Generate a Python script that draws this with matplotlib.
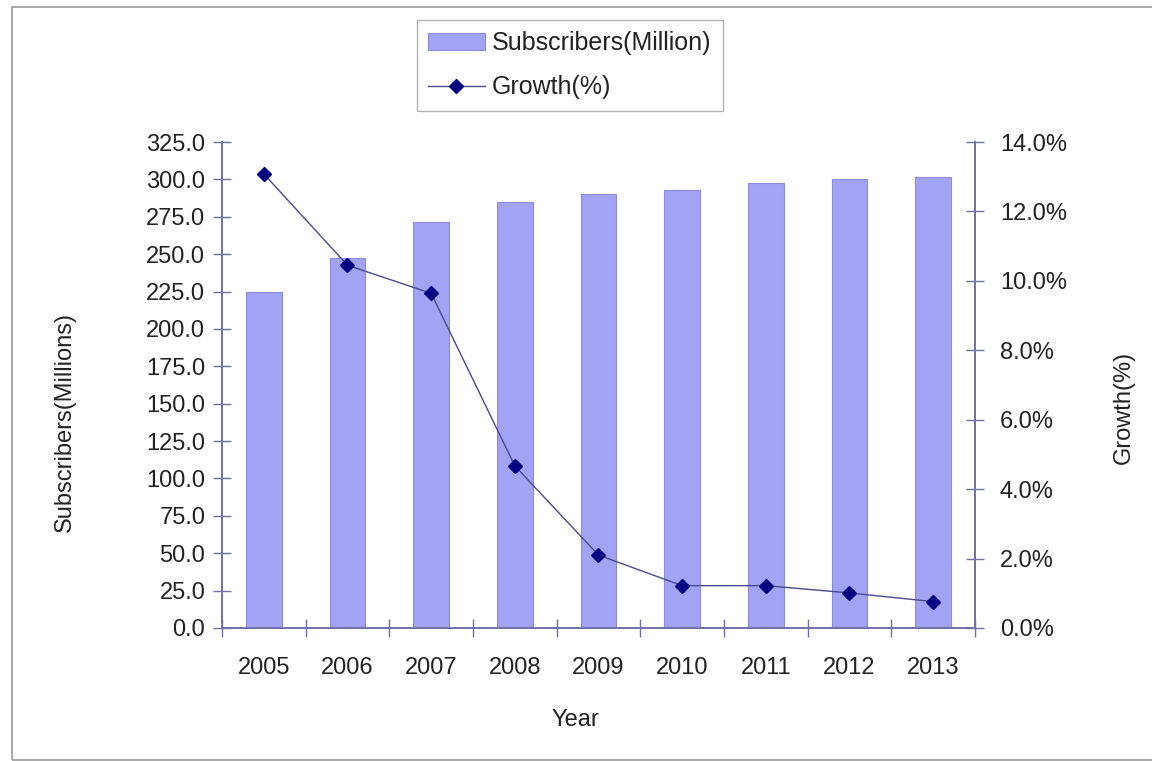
import numpy as np
import matplotlib
matplotlib.use("Agg")
import matplotlib.pyplot as plt
from matplotlib.patches import Rectangle
from matplotlib.ticker import FuncFormatter, FixedLocator

plt.rcParams["font.family"] = ["Liberation Sans", "DejaVu Sans"]
plt.rcParams["font.size"] = 17

# Data
years = ["2005", "2006", "2007", "2008", "2009", "2010", "2011", "2012", "2013"]
subscribers = [224.7, 247.6, 271.3, 284.7, 290.4, 293.1, 297.4, 300.3, 301.8]
growth = [13.08, 10.45, 9.64, 4.67, 2.10, 1.22, 1.22, 1.01, 0.76]

axis_col = "#7070a8"
bar_col = "#a3a3f5"
text_col = "#222222"

fig = plt.figure(figsize=(11.52, 7.61), dpi=100)
ax = fig.add_axes([222 / 1152, 1 - 628 / 761, 753 / 1152, 486 / 761])
ax2 = ax.twinx()

x = np.arange(len(years))
bars = ax.bar(x, subscribers, width=0.43, color=bar_col, edgecolor="#8c8cd8",
              linewidth=0.8, label="Subscribers(Million)", zorder=2)
line, = ax2.plot(x, growth, color="#4a4a90", linewidth=1.0, marker="D",
                 markersize=7, markerfacecolor="#000080", markeredgecolor="#000080",
                 label="Growth(%)")

ax.set_xlim(-0.5, len(years) - 0.5)
ax.set_ylim(0, 325)
ax.set_yticks(np.arange(0, 326, 25))
ax.yaxis.set_major_formatter(FuncFormatter(lambda v, p: f"{v:.1f}"))
ax2.set_ylim(0, 14)
ax2.set_yticks(np.arange(0, 15, 2))
ax2.yaxis.set_major_formatter(FuncFormatter(lambda v, p: f"{v:.1f}%"))

# category labels centred, tick marks between categories
ax.xaxis.set_major_locator(FixedLocator(np.arange(-0.5, len(years), 1.0)))
ax.xaxis.set_major_formatter(FuncFormatter(lambda v, p: ""))
ax.xaxis.set_minor_locator(FixedLocator(x))
ax.set_xticks(x, years, minor=True)
ax.tick_params(axis="x", which="minor", length=0, pad=21, labelcolor=text_col)
ax.tick_params(axis="x", which="major", direction="inout", length=13,
               color=axis_col, width=1)
ax.tick_params(axis="y", direction="inout", length=13, color=axis_col, width=1,
               pad=5.5, labelcolor=text_col)
ax2.tick_params(axis="y", direction="inout", length=13, color=axis_col, width=1,
                pad=11.5, labelcolor=text_col)

for a in (ax, ax2):
    a.spines["top"].set_visible(False)
    for s in ("left", "right", "bottom"):
        a.spines[s].set_color(axis_col)
        a.spines[s].set_linewidth(1.2)

ax.set_xlabel("Year", color=text_col)
ax.xaxis.set_label_coords((575 - 222) / 753, -0.167)
ax.set_ylabel("Subscribers(Millions)", color=text_col)
ax.yaxis.set_label_coords(-0.194, 0.424)
ax2.set_ylabel("Growth(%)", color=text_col)
ax2.yaxis.set_label_coords(1.183, 0.453)

leg = fig.legend([bars, line], ["Subscribers(Million)", "Growth(%)"],
                 loc="upper left", bbox_to_anchor=(417 / 1152, 1 - 20 / 761),
                 borderaxespad=0, fancybox=False, handlelength=2.25,
                 labelspacing=0.8, borderpad=0.45, handletextpad=0.3,
                 fontsize=18)
for t in leg.get_texts():
    t.set_color(text_col)
leg.get_frame().set_edgecolor("#a0a0a0")
leg.get_frame().set_linewidth(1.0)

# outer chart border
fig.patches.append(Rectangle((12 / 1152, 1 / 761), 1.2, 1 - 8 / 761,
                             transform=fig.transFigure, fill=False,
                             edgecolor="#9a9a9a", linewidth=1.2))

fig.savefig("out.png", dpi=100)
